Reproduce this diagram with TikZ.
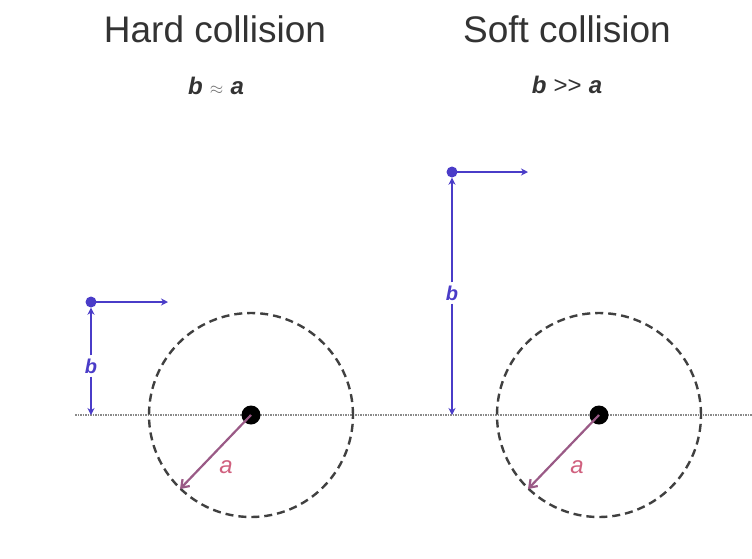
\documentclass[tikz,border=0pt]{standalone}
\usepackage{fontspec}
\setmainfont{Liberation Sans}
\usetikzlibrary{arrows.meta}
\definecolor{bluevec}{HTML}{4A3CC8}
\definecolor{mauve}{HTML}{9A5A86}
\definecolor{pinklabel}{HTML}{D0607E}
\definecolor{txt}{HTML}{333333}
\definecolor{axisgray}{HTML}{8A8A8A}
\begin{document}
\begin{tikzpicture}[x=1pt,y=-1pt,
  title/.style={font=\fontsize{37}{40}\selectfont, text=txt, inner sep=0pt, anchor=base},
  subtitle/.style={font=\fontsize{24}{28}\selectfont\bfseries\itshape, text=txt, inner sep=0pt, anchor=base},
  nucleus/.style={circle, fill=black, minimum size=19pt, inner sep=0pt},
  rangecircle/.style={circle, draw=black!75, line width=2.4pt, dash pattern=on 8pt off 5pt, minimum size=204pt, inner sep=0pt},
  axisline/.style={draw=axisgray, line width=1.2pt, dash pattern=on 1.5pt off 1pt},
  bdot/.style={circle, fill=bluevec, minimum size=11pt, inner sep=0pt},
  bvec/.style={draw=bluevec, line width=2.6pt, -{Stealth[length=7pt,width=7pt]}},
  blab/.style={font=\fontsize{20}{22}\selectfont\bfseries\itshape, text=bluevec, inner sep=3pt},
  avec/.style={draw=mauve, line width=2.2pt, -{Straight Barb[length=7pt,width=10pt]}},
  alab/.style={font=\fontsize{24}{26}\selectfont\itshape, text=pinklabel, inner sep=0pt}
]
\useasboundingbox[fill=white] (0,0) rectangle (752,558);

% titles
\node[title] (t1) at (215,42) {Hard collision};
\node[title] (t2) at (567,42) {Soft collision};
\node[subtitle] (s1) at (216,94) {b\hspace{0.3em}{\mdseries\color{black!55}\fontsize{17}{20}\selectfont$\approx$}\hspace{0.3em}a};
\node[subtitle] (s2) at (567,93) {b\hspace{0.3em}{\mdseries\upshape\textgreater{}\textgreater{}}\hspace{0.3em}a};

% axis
\coordinate (axL) at (75,415);
\coordinate (axR) at (752,415);
\draw[axisline] (axL) -- (axR);

% left: hard collision
\node[rangecircle] (r1) at (251,415) {};
\node[nucleus] (n1) at (251,415) {};
\coordinate (e1) at (180,489);
\draw[avec] (n1.center) -- (e1);
\node[alab] (a1) at (226,467) {a};

\node[bdot] (p1) at (91,302) {};
\coordinate (h1) at (168,302);
\draw[bvec] (p1.center) -- (h1);
\coordinate (f1) at (91,415);
\node[blab] (bl1) at (91,366) {b};
\draw[bvec] (bl1.north) -- (p1.south);
\draw[bvec] (bl1.south) -- (f1);

% right: soft collision
\node[rangecircle] (r2) at (599,415) {};
\node[nucleus] (n2) at (599,415) {};
\coordinate (e2) at (528,489);
\draw[avec] (n2.center) -- (e2);
\node[alab] (a2) at (577,467) {a};

\node[bdot] (p2) at (452,172) {};
\coordinate (h2) at (528,172);
\draw[bvec] (p2.center) -- (h2);
\coordinate (f2) at (452,415);
\node[blab] (bl2) at (452,293) {b};
\draw[bvec] (bl2.north) -- (p2.south);
\draw[bvec] (bl2.south) -- (f2);
\end{tikzpicture}
\end{document}
